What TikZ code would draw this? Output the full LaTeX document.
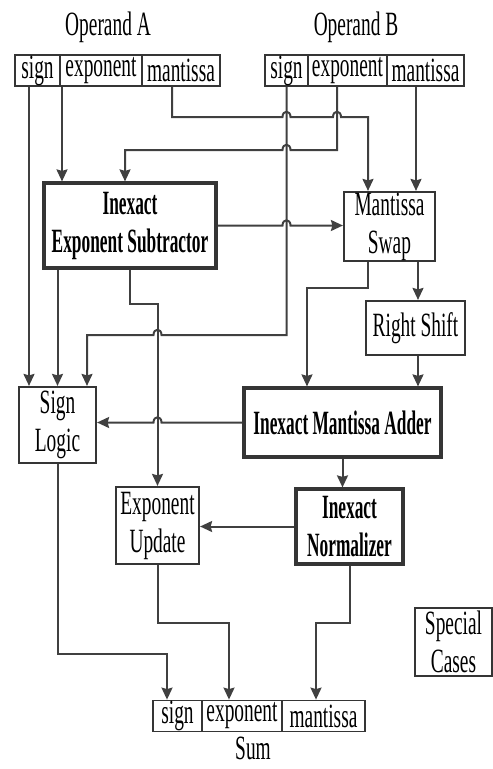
\documentclass[tikz,border=0pt]{standalone}
\usepackage{fontspec}
\setmainfont[FakeStretch=0.57,BoldFeatures={FakeStretch=0.51}]{Liberation Serif}
\usetikzlibrary{arrows.meta,calc}
\definecolor{linec}{HTML}{404040}
\definecolor{boxc}{HTML}{353535}
\begin{document}
\begin{tikzpicture}[x=1pt,y=-1pt,
  every node/.style={font=\fontsize{34}{38}\selectfont, inner sep=0pt, align=center},
  box/.style={draw=boxc, line width=2.2pt, fill=white},
  bbox/.style={draw=boxc, line width=3.2pt, fill=white, font=\fontsize{34}{38}\selectfont\bfseries},
  cell/.style={draw=boxc, line width=1.8pt, minimum height=31pt},
  lbl/.style={anchor=base},
  ln/.style={draw=linec, line width=2pt},
  arr/.style={ln, -{Stealth[length=12pt,width=11pt,inset=1.5pt]}},
]
\useasboundingbox (0,0) rectangle (493,769);

% Operand labels
\node[lbl] (opA) at (108,35) {Operand A};
\node[lbl] (opB) at (356,35) {Operand B};

% Register A
\node[cell, minimum width=45pt] (aS) at (37.5,70.5) {sign};
\node[cell, minimum width=82pt] (aE) at (101,70.5) {exponent};
\node[cell, minimum width=78pt] (aM) at (181,70.5) {mantissa};
% Register B
\node[cell, minimum width=43pt] (bS) at (286.5,70.5) {sign};
\node[cell, minimum width=79pt] (bE) at (347.5,70.5) {exponent};
\node[cell, minimum width=77pt] (bM) at (425.5,70.5) {mantissa};

% Blocks
\node[bbox, minimum width=172pt, minimum height=85pt] (sub) at (130,225.5) {Inexact\\Exponent Subtractor};
\node[box, minimum width=91pt, minimum height=69pt] (swap) at (389.5,226.5) {Mantissa\\Swap};
\node[box, minimum width=99pt, minimum height=54pt] (rs) at (415.5,328) {Right Shift};
\node[bbox, minimum width=197pt, minimum height=69pt] (add) at (342.5,422.5) {Inexact Mantissa Adder};
\node[box, minimum width=77pt, minimum height=76pt] (sl) at (57.5,425) {Sign\\Logic};
\node[box, minimum width=83pt, minimum height=77pt] (eu) at (157.5,525.5) {Exponent\\Update};
\node[bbox, minimum width=107pt, minimum height=75pt] (norm) at (349.5,526.5) {Inexact\\Normalizer};
\node[box, minimum width=77pt, minimum height=68pt] (sc) at (453.5,642) {Special\\Cases};

% Sum register
\node[cell, minimum width=49pt] (sS) at (177.5,716) {sign};
\node[cell, minimum width=80pt] (sE) at (242,716) {exponent};
\node[cell, minimum width=83pt] (sM) at (323.5,716) {mantissa};
\node[lbl] (sumL) at (253,759) {Sum};

% Connectors from operand A
\draw[arr] ([xshift=-8.5pt]aS.south) -- ([xshift=-28.5pt]sl.north);
\draw[arr] ([xshift=-39pt]aE.south) -- ([xshift=-68pt]sub.north);
\draw[arr] ([xshift=-9pt]aM.south) -- (172,117) -- (282.5,117)
  .. controls (282.5,110) and (290.5,110) .. (290.5,117) -- (333,117)
  .. controls (333,110) and (341,110) .. (341,117) -- (368,117) -- ([xshift=-21.5pt]swap.north);

% Connectors from operand B
\draw[arr] ([xshift=-10.5pt]bE.south) -- (337,150) -- (290.5,150)
  .. controls (290.5,143) and (282.5,143) .. (282.5,150) -- (125,150) -- ([xshift=-5pt]sub.north);
\draw[arr] ([xshift=-9.5pt]bM.south) -- ([xshift=26.5pt]swap.north);
\draw[arr] (bS.south) -- (286.5,335) -- (161.5,335)
  .. controls (161.5,328) and (153.5,328) .. (153.5,335) -- (87,335) -- ([xshift=29.5pt]sl.north);

% Subtractor outputs
\draw[arr] (sub.east) -- (282.5,225.5)
  .. controls (282.5,218.5) and (290.5,218.5) .. (290.5,225.5) -- (sub.east -| swap.west);
\draw[arr] ([xshift=-72.5pt]sub.south) -- (sl.north);
\draw[arr] (sub.south) -- (130,304) -- (157.5,304) -- (eu.north);

% Swap outputs
\draw[arr] ([xshift=-21.5pt]swap.south) -- (368,288) -- (307,288) -- ([xshift=-35.5pt]add.north);
\draw[arr] ([xshift=28.5pt]swap.south) -- ([xshift=2.5pt]rs.north);
\draw[arr] ([xshift=2.5pt]rs.south) -- ([xshift=75.5pt]add.north);

% Adder outputs
\draw[arr] (add.west) -- (161.5,422.5)
  .. controls (161.5,415.5) and (153.5,415.5) .. (153.5,422.5) -- (add.west -| sl.east);
\draw[arr] (add.south) -- (add.south |- norm.north);

% Normalizer outputs
\draw[arr] (norm.west) -- (norm.west -| eu.east);
\draw[arr] (norm.south) -- (349.5,623) -- (316,623) -- ([xshift=-7.5pt]sM.north);

% To sum
\draw[arr] (eu.south) -- (157.5,623) -- (229,623) -- ([xshift=-13pt]sE.north);
\draw[arr] (sl.south) -- (57.5,654) -- (167,654) -- ([xshift=-10.5pt]sS.north);
\end{tikzpicture}
\end{document}
